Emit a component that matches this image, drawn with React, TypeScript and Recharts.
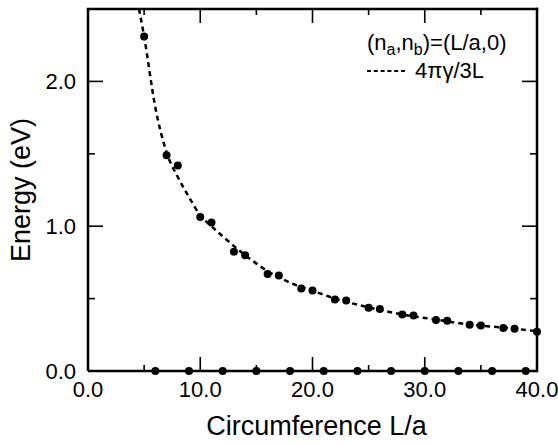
import { ComposedChart, Scatter, Line, XAxis, YAxis } from "recharts";

const FONT = "'Liberation Sans', Arial, Helvetica, sans-serif";

// semiconducting (n_a, 0) tubes, gap
const gapL = [5, 7, 8, 10, 11, 13, 14, 16, 17, 19, 20, 22, 23, 25, 26, 28, 29, 31, 32, 34, 35, 37, 38, 40];
const gapE = [
  2.31, 1.49, 1.42, 1.064, 1.025, 0.823, 0.8, 0.67, 0.66, 0.57, 0.556, 0.494, 0.487, 0.437, 0.428, 0.391,
  0.384, 0.352, 0.347, 0.32, 0.315, 0.297, 0.292, 0.271,
];

// metallic tubes (L/a multiple of 3)
const metalL = [6, 9, 12, 15, 18, 21, 24, 27, 30, 33, 36, 39];
const metalE = [0, 0, 0, 0, 0, 0, 0, 0, 0, 0, 0, 0];

// dashed guide 4πγ/3L, read at some points along the curve
const fitL = [4.55, 5, 6, 7, 8, 9, 10, 11, 12, 14, 16, 18, 20, 22, 25, 28, 31, 34, 37, 40];
const fitE = [2.5, 2.31, 1.82, 1.51, 1.34, 1.2, 1.075, 1.0, 0.93, 0.8, 0.69, 0.61, 0.555, 0.5, 0.44, 0.39, 0.355, 0.32, 0.3, 0.275];

const xTicks = [0, 5, 10, 15, 20, 25, 30, 35, 40];
const yTicks = [0, 0.5, 1, 1.5, 2];

const gapData = gapL.map((x, i) => ({ x, e: gapE[i] }));
const metalData = metalL.map((x, i) => ({ x, e: metalE[i] }));
const fitData = fitL.map((x, i) => ({ x, e: fitE[i] }));

const W = 558;
const H = 444;
const X_AXIS_H = 73;
const Y_AXIS_W = 88;
const margin = { top: 9, right: 21, bottom: 0, left: 0 };
const plotTop = margin.top;
const plotBottom = H - margin.bottom - X_AXIS_H;
const plotLeft = margin.left + Y_AXIS_W;
const plotRight = W - margin.right;

const frame = { stroke: "#000", strokeWidth: 2.5 };
const TW = 1.6; // tick thickness
const FW = 2.5; // frame thickness

// inward ticks on bottom and top edges, drawn as thin filled bars
const XTick = ({ x, payload }: any) => {
  const v = payload.value;
  const major = v % 10 === 0;
  const len = major ? 14 : 6;
  const edge = v === 0 || v === 40;
  return (
    <g>
      {!edge && <rect x={x - TW / 2} y={plotBottom - len} width={TW} height={len} fill="#000" />}
      {!edge && <rect x={x - TW / 2} y={plotTop} width={TW} height={len} fill="#000" />}
      {major && (
        <text x={x} y={plotBottom + 26} textAnchor="middle" fontSize={22} fontFamily={FONT} fill="#000">
          {v.toFixed(1)}
        </text>
      )}
    </g>
  );
};

// inward ticks on left and right edges
const YTick = ({ y, payload }: any) => {
  const v = payload.value;
  const major = Number.isInteger(v);
  const len = major ? 15 : 7;
  return (
    <g>
      {v !== 0 && <rect x={plotLeft} y={y - TW / 2} width={len} height={TW} fill="#000" />}
      {v !== 0 && <rect x={plotRight - len} y={y - TW / 2} width={len} height={TW} fill="#000" />}
      {major && (
        <text x={plotLeft - 12} y={y} dy="0.36em" textAnchor="end" fontSize={22} fontFamily={FONT} fill="#000">
          {v.toFixed(1)}
        </text>
      )}
    </g>
  );
};

const dot = (p: any) => <circle cx={p.cx} cy={p.cy} r={4} fill="#000" />;

const yTitleX = 30;
const yTitleY = (plotTop + plotBottom) / 2;

export default function App() {
  return (
    <div style={{ position: "absolute", left: 0, top: 0, width: W, height: H, background: "#fff" }}>
      <ComposedChart width={W} height={H} margin={margin}>
        <XAxis type="number" dataKey="x" domain={[0, 40]} ticks={xTicks} interval={0} height={X_AXIS_H}
          tickLine={false} tick={<XTick />} axisLine={frame} />
        <YAxis type="number" dataKey="e" domain={[0, 2.5]} ticks={yTicks} interval={0} width={Y_AXIS_W}
          tickLine={false} tick={<YTick />} axisLine={frame} />

        <Line data={fitData} dataKey="e" type="monotone" stroke="#000" strokeWidth={2.5} strokeDasharray="5 4"
          dot={false} activeDot={false} isAnimationActive={false} />
        <Scatter data={gapData} dataKey="e" shape={dot} isAnimationActive={false} />
        <Scatter data={metalData} dataKey="e" shape={dot} isAnimationActive={false} />

        {/* top and right edges of the frame */}
        <rect x={plotLeft - FW / 2} y={plotTop - FW / 2} width={plotRight - plotLeft + FW} height={FW} fill="#000" />
        <rect x={plotRight - FW / 2} y={plotTop - FW / 2} width={FW} height={plotBottom - plotTop + FW} fill="#000" />

        {/* axis titles */}
        <text x={(plotLeft + plotRight) / 2 + 4} y={435} textAnchor="middle" fontSize={27} fontFamily={FONT} fill="#000">
          Circumference L/a
        </text>
        <text x={yTitleX} y={yTitleY} transform={`rotate(-90, ${yTitleX}, ${yTitleY})`} textAnchor="middle"
          fontSize={27} fontFamily={FONT} fill="#000">
          Energy (eV)
        </text>

        {/* legend */}
        <g fontFamily={FONT} fill="#000">
          <text x={367} y={50} fontSize={22}>
            (n<tspan dy={5} fontSize={16}>a</tspan>
            <tspan dy={-5}>,n</tspan>
            <tspan dy={5} fontSize={16}>b</tspan>
            <tspan dy={-5}>)=(L/a,0)</tspan>
          </text>
          <path d="M367,71H405" stroke="#000" strokeWidth={2} strokeDasharray="4 2.8" fill="none" />
          <text x={415} y={78} fontSize={22}>4πγ/3L</text>
        </g>
      </ComposedChart>
    </div>
  );
}
